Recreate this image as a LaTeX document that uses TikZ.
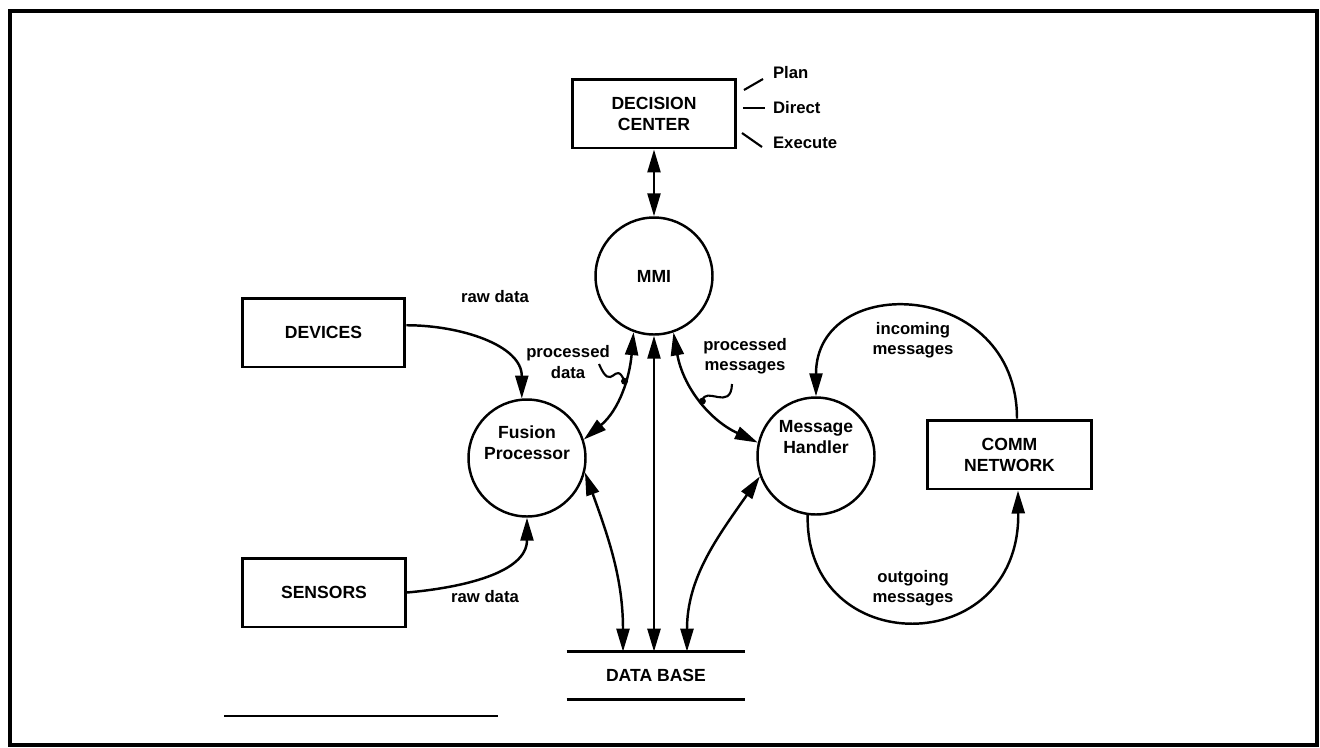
\documentclass[tikz,border=0pt]{standalone}
\usepackage{fontspec}
\setmainfont{Liberation Sans}
\usetikzlibrary{arrows.meta}

\begin{document}
\begin{tikzpicture}[x=0.02cm, y=0.02cm,
    box/.style={draw, line width=1.7pt, minimum width=3.26cm, minimum height=1.38cm, inner sep=0pt, align=center, font=\bfseries\fontsize{10}{12}\selectfont},
    proc/.style={draw, circle, line width=1.4pt, minimum size=2.34cm, inner sep=0pt, font=\bfseries\fontsize{10}{12}\selectfont},
    txt/.style={align=center, font=\bfseries\fontsize{10}{12}\selectfont},
    lbl/.style={align=center, inner sep=1pt, font=\bfseries\fontsize{9.5}{11.5}\selectfont},
    arr/.style={line width=1.4pt, -{Triangle[length=0.46cm, width=0.26cm]}},
    dbl/.style={line width=1.4pt, {Triangle[length=0.46cm, width=0.26cm]}-{Triangle[length=0.46cm, width=0.26cm]}},
    stub/.style={line width=1.2pt},
    wavy/.style={line width=1.2pt}]
        \useasboundingbox (0,0) rectangle (1320,-748);
        \draw[line width=2.3pt] (10,-11) rectangle (1317,-745);

        \node[box] (dc) at (654,-113.5) {DECISION\\CENTER};
        \node[box] (dev) at (323.5,-332.5) {DEVICES};
        \node[box] (sen) at (324,-592.5) {SENSORS};
        \node[box, minimum width=3.3cm] (comm) at (1009.5,-454.5) {COMM\\NETWORK};

        \node[proc] (mmi) at (654,-276) {MMI};
        \node[proc, label={[txt, yshift=0.3cm]center:Fusion\\Processor}] (fp) at (527,-458) {};
        \node[proc, label={[txt, yshift=0.38cm]center:Message\\Handler}] (mh) at (816,-456) {};

        \node[txt, minimum width=3.56cm, minimum height=0.94cm, inner sep=0pt] (db) at (656,-675.5) {DATA BASE};
        \draw[line width=1.7pt] (db.north west) -- (db.north east);
        \draw[line width=1.7pt] (db.south west) -- (db.south east);

        \node[lbl, anchor=west] (plan) at (771,-73) {Plan};
        \node[lbl, anchor=west] (direct) at (771,-108) {Direct};
        \node[lbl, anchor=west] (execute) at (771,-143) {Execute};
        \draw[stub] ([shift={(0.14cm,0.47cm)}]dc.east) -- ([shift={(-0.16cm,-0.12cm)}]plan.west);
        \draw[stub] ([xshift=0.12cm]dc.east |- direct.west) -- ([xshift=-0.12cm]direct.west);
        \draw[stub] ([shift={(0.1cm,-0.39cm)}]dc.east) -- ([shift={(-0.18cm,-0.08cm)}]execute.west);

        \node[lbl] (rawtop) at (495,-297) {raw data};
        \node[lbl] (rawbot) at (485,-597) {raw data};
        \node[lbl] (pdlbl) at (568,-362) {processed\\data};
        \node[lbl] (pmlbl) at (745,-356) {processed\\messages};
        \node[lbl] (inlbl) at (913,-340) {incoming\\messages};
        \node[lbl] (outlbl) at (913,-588) {outgoing\\messages};
        \coordinate (pdend) at (599,-364);
        \coordinate (pmend) at (732,-384);

        \draw[dbl] (dc) -- (mmi);
        \draw[arr] (dev.5) to[out=0, in=90] (fp.95);
        \draw[arr] (sen.east) to[out=5, in=-90] (fp.south);
        \draw[dbl] (mmi.250) to[out=-95, in=40] coordinate[pos=0.4] (pd) (fp.18);
        \draw[dbl] (mmi.289) to[out=-80, in=155] coordinate[pos=0.52] (pm) (mh.167);
        \draw[dbl] (mmi.south) -- (mmi.south |- db.north);
        \draw[dbl] (fp.-14) to[out=-70, in=90] ([xshift=-0.66cm]db.north);
        \draw[dbl] (mh.200) to[out=-125, in=90] ([xshift=0.62cm]db.north);
        \draw[arr] ([xshift=0.15cm]comm.north) .. controls +(0,140) and +(0,125) .. (mh.north);
        \draw[arr] (mh.-98) .. controls +(-3,-145) and +(2,-170) .. ([xshift=0.17cm]comm.south);

        \draw[wavy] (pd) .. controls (615,-358) and (612,-395) .. (pdend);
        \draw[wavy] (pm) .. controls (705,-385) and (731,-412) .. (pmend);
        \fill (pd) circle (0.07cm);
        \fill (pm) circle (0.07cm);

        \draw[line width=0.8pt] (224,-716) -- (498,-716);
    \end{tikzpicture}
\end{document}
